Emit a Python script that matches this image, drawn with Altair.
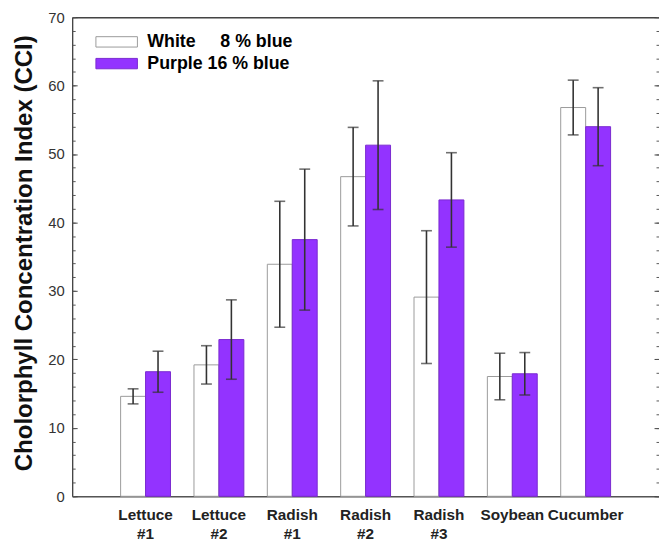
import altair as alt
import pandas as pd

crops = ["Lettuce #1", "Lettuce #2", "Radish #1", "Radish #2", "Radish #3", "Soybean", "Cucumber"]
series = ["White\u00a0\u00a0\u00a0\u00a0\u00a08 % blue", "Purple 16 % blue"]
white_mean = [14.6, 19.2, 33.9, 46.7, 29.1, 17.5, 56.8]
white_err = [1.1, 2.8, 9.2, 7.2, 9.7, 3.4, 4.0]
purple_mean = [18.2, 22.9, 37.5, 51.3, 43.3, 17.9, 54.0]
purple_err = [3.0, 5.8, 10.3, 9.4, 6.9, 3.1, 5.7]
fill_colors = ["#FFFFFF", "#9333FF"]
stroke_colors = ["#9a9a9a", "#7a2ad0"]

rows = []
for i, c in enumerate(crops):
    for s, m, e in ((series[0], white_mean[i], white_err[i]), (series[1], purple_mean[i], purple_err[i])):
        rows.append({"crop": c, "series": s, "mean": m, "lo": m - e, "hi": m + e})
df = pd.DataFrame(rows)
caps = pd.concat([
    df[["crop", "series", "lo"]].rename(columns={"lo": "v"}),
    df[["crop", "series", "hi"]].rename(columns={"hi": "v"}),
])

FONT = "Liberation Sans"
ymaj = list(range(0, 71, 10))
ymin = list(range(0, 71, 2))

xscale = alt.Scale(domain=crops, paddingInner=0.32, paddingOuter=0.66)
xoff = alt.XOffset("series:N", scale=alt.Scale(domain=series, paddingInner=0, paddingOuter=0))
yscale = alt.Scale(domain=[0, 70], nice=False, zero=True)

legend = alt.Legend(
    title=None, orient="none", legendX=36, legendY=16,
    symbolType="M-4,-1H4V1H-4Z", symbolSize=110.25, symbolStrokeWidth=1,
    labelFont=FONT, labelFontSize=18, labelFontWeight="bold", labelColor="#000",
    labelOffset=22, rowPadding=4, labelLimit=400,
)

base = alt.Chart(df)

bars = base.mark_bar(strokeWidth=1).encode(
    x=alt.X("crop:N", scale=xscale, sort=crops, title=None,
            axis=alt.Axis(orient="bottom", ticks=False, domain=True, domainColor="#555", domainWidth=1.5,
                          labelExpr="split(datum.label, ' ')", labelAngle=0, labelFont=FONT,
                          labelFontSize=15.5, labelFontWeight="bold", labelColor="#222",
                          labelPadding=12, labelLineHeight=19)),
    xOffset=xoff,
    y=alt.Y("mean:Q", scale=yscale, title="Cholorphyll Concentration Index (CCI)",
            axis=alt.Axis(orient="left", values=ymaj, ticks=False, domain=True, domainColor="#333",
                          domainWidth=1.2, labelFont=FONT, labelFontSize=15, labelColor="#333",
                          labelPadding=8, titleFont=FONT, titleFontSize=24.3, titleFontWeight="bold",
                          titleColor="#111", titleX=-41, titleY=238.5, titleBaseline="alphabetic",
                          grid=False)),
    fill=alt.Fill("series:N", scale=alt.Scale(domain=series, range=fill_colors), legend=legend, sort=series),
    stroke=alt.Stroke("series:N", scale=alt.Scale(domain=series, range=stroke_colors), legend=legend, sort=series),
)

rules = base.mark_rule(color="#333", strokeWidth=1.6).encode(
    x=alt.X("crop:N", scale=xscale, sort=crops, title=None,
            axis=alt.Axis(orient="top", labels=False, ticks=False, domain=True, domainColor="#444",
                          domainWidth=1.5)),
    xOffset=xoff,
    y=alt.Y("lo:Q", scale=yscale, title=None,
            axis=alt.Axis(orient="left", values=ymaj, offset=-5, tickSize=5, tickColor="#444",
                          labels=False, domain=False, grid=False)),
    y2="hi:Q",
)

capmarks = alt.Chart(caps).mark_tick(color="#333", thickness=1.6, size=11, orient="horizontal").encode(
    x=alt.X("crop:N", scale=xscale, sort=crops, title=None, axis=None),
    xOffset=xoff,
    y=alt.Y("v:Q", scale=yscale, title=None,
            axis=alt.Axis(orient="left", values=ymin, offset=-3, tickSize=3, tickColor="#555",
                          labels=False, domain=False, grid=False)),
)

right_major = base.mark_point(opacity=0).encode(
    x=alt.X("crop:N", scale=xscale, sort=crops, title=None, axis=None),
    xOffset=xoff,
    y=alt.Y("mean:Q", scale=yscale, title=None,
            axis=alt.Axis(orient="right", values=ymaj, offset=-5, tickSize=5, tickColor="#444",
                          labels=False, domain=False, grid=False)),
)

right_minor = base.mark_point(opacity=0).encode(
    x=alt.X("crop:N", scale=xscale, sort=crops, title=None, axis=None),
    xOffset=xoff,
    y=alt.Y("hi:Q", scale=yscale, title=None,
            axis=alt.Axis(orient="right", values=ymin, offset=-3, tickSize=3, tickColor="#555",
                          labels=False, domain=False, grid=False)),
)

chart = alt.layer(bars, rules, capmarks, right_major, right_minor).resolve_axis(
    x="independent", y="independent"
).properties(
    width=594, height=485,
    autosize=alt.AutoSizeParams(type="none"),
    padding={"left": 65, "top": 6, "right": 0, "bottom": 44},
).configure_view(stroke=None).configure(background="white")

chart.save("out.html", embed_options={"renderer": "svg", "actions": False})
